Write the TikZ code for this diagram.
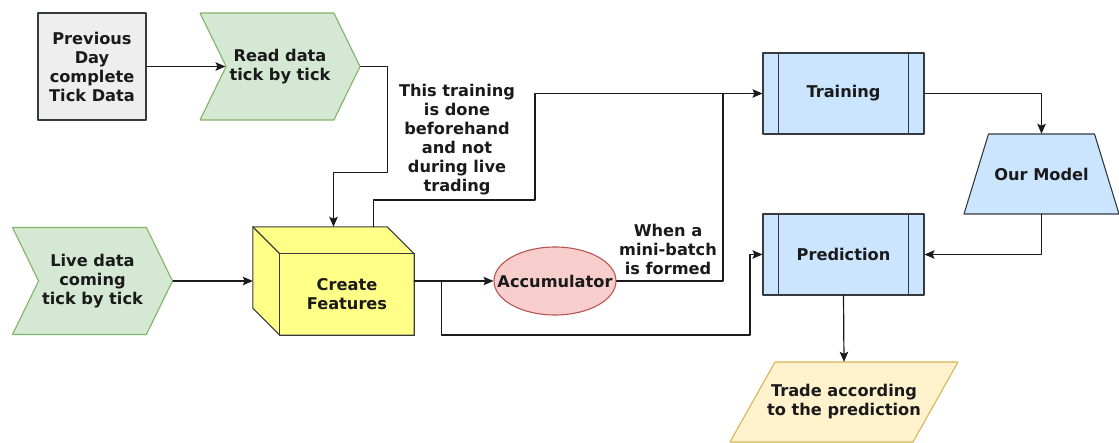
\documentclass[tikz,border=0pt]{standalone}
\usepackage{fontspec}
\setmainfont{DejaVu Sans}
\usetikzlibrary{arrows.meta, calc, shapes.geometric, shapes.symbols}
\definecolor{edge}{HTML}{36393D}
\definecolor{ink}{HTML}{1A1A1A}
\definecolor{greyfill}{HTML}{EEEEEE}
\definecolor{greenfill}{HTML}{D5E8D4}
\definecolor{greenline}{HTML}{82B366}
\definecolor{cubefill}{HTML}{FFFF88}
\definecolor{bluefill}{HTML}{CCE5FF}
\definecolor{pinkfill}{HTML}{F8CECC}
\definecolor{pinkline}{HTML}{B85450}
\definecolor{tradefill}{HTML}{FFF2CC}
\definecolor{tradeline}{HTML}{D6B656}

\begin{document}
\begin{tikzpicture}[x=1pt, y=-1pt, >={Stealth[length=10pt,width=8.5pt,inset=2pt]},
		line cap=round, line join=round,
		font=\fontsize{16.2}{19}\selectfont\bfseries, text=ink,
		conn/.style={draw=ink, line width=1.2pt},
		chevron/.style={signal, signal from=west, signal to=east, signal pointer angle=128,
			fill=greenfill, draw=greenline, line width=1.1pt, minimum width=160, minimum height=107, align=center},
		procbox/.style={rectangle, fill=bluefill, draw=edge, line width=1.1pt, minimum width=161, minimum height=81},
		note/.style={align=center, inner sep=0pt}]
		
		\useasboundingbox (0,0) rectangle (1119,442);
		
		% ===== Left: data sources =====
		\node[rectangle, fill=greyfill, draw=edge, line width=1.1pt, minimum width=108, minimum height=107,
		align=center, inner sep=0pt] (prev) at (92,66.5) {Previous\\Day\\complete\\Tick Data};
		\node[chevron] (read) at (280,66.5) {Read data\\tick by tick};
		\node[chevron] (live) at (92.5,281) {Live data\\coming\\tick by tick};
		
		% cube for the feature step
		\node[minimum width=161, minimum height=108, inner sep=0pt] (feat) at (333.5,281) {};
		\fill[cubefill] (feat.north west) -- ($(feat.north east)+(-27,0)$) -- ($(feat.north east)+(0,27)$)
		-- (feat.south east) -- ($(feat.south west)+(27,0)$) -- ($(feat.south west)+(0,-27)$) -- cycle;
		\draw[edge, line width=1.1pt] (feat.north west) -- ($(feat.north east)+(-27,0)$) -- ($(feat.north east)+(0,27)$)
		-- (feat.south east) -- ($(feat.south west)+(27,0)$) -- ($(feat.south west)+(0,-27)$) -- cycle;
		\draw[edge, line width=1.1pt] ($(feat.north west)+(27,27)$) rectangle (feat.south east);
		\draw[edge, line width=1.1pt] (feat.north west) -- ($(feat.north west)+(27,27)$);
		\node[note] (featlbl) at ($(feat.center)+(13.5,13.5)$) {Create\\Features};
		
		\node[ellipse, fill=pinkfill, draw=pinkline, line width=1.1pt, minimum width=122, minimum height=68,
		inner sep=0pt] (acc) at (555,281) {\makebox[0pt]{Accumulator}};
		
		% ===== Right: model side =====
		\node[procbox] (train) at (843.5,93.5) {Training};
		\node[procbox] (pred) at (843.5,254.5) {Prediction};
		\foreach \n in {train,pred}{
			\draw[edge, line width=1.1pt] ($(\n.north west)+(16,0)$) -- ($(\n.south west)+(16,0)$);
			\draw[edge, line width=1.1pt] ($(\n.north east)+(-16,0)$) -- ($(\n.south east)+(-16,0)$);
		}
		% trapezium for the model, parallelogram for the trade
		\node[minimum width=106, minimum height=80, inner sep=0pt] (model) at (1041.5,174) {};
		\filldraw[fill=bluefill, draw=edge, line width=1.1pt] ($(model.center)+(-53,-40)$) -- ($(model.center)+(53,-40)$)
		-- ($(model.center)+(77.5,40)$) -- ($(model.center)+(-77.5,40)$) -- cycle;
		\node[note] (modellbl) at (model.center) {Our Model};
		\node[minimum width=183, minimum height=80, inner sep=0pt] (trade) at (844,402) {};
		\filldraw[fill=tradefill, draw=tradeline, line width=1.1pt] ($(trade.center)+(-69,-40)$) -- ($(trade.center)+(114,-40)$)
		-- ($(trade.center)+(69,40)$) -- ($(trade.center)+(-114,40)$) -- cycle;
		\node[note] (tradelbl) at (trade.center) {Trade according\\to the prediction};
		
		% labels on the lines
		\node[note] (why) at (457,140) {This training\\is done\\beforehand\\and not\\during live\\trading};
		\node[note] (when) at (668,249) {When a\\mini-batch\\is formed};
		
		% ===== Connectors =====
		\coordinate (split) at ($(feat.east)+(27,0)$);
		\coordinate (join) at (723,93.5);
		\draw[conn, ->] (prev.east) -- (read.west);
		\draw[conn, ->] (read.east) -- ++(27,0) |- ($(feat.north)+(0,-54)$) -- (feat.north);
		\draw[conn, ->] (live.east) -- (feat.west);
		\draw[conn, ->] ($(feat.north)+(40,0)$) |- (535,200) |- (train.west);
		\draw[conn, ->] (feat.east) -- (acc.west);
		\draw[conn] (acc.east) -| (join);
		\draw[conn, ->] (split) |- (750,335) |- (pred.west);
		\draw[conn, ->] (train.east) -| (model.north);
		\draw[conn, ->] (model.south) |- (pred.east);
		\draw[conn, ->] (pred.south) -- (trade.north);
		
	\end{tikzpicture}
\end{document}
